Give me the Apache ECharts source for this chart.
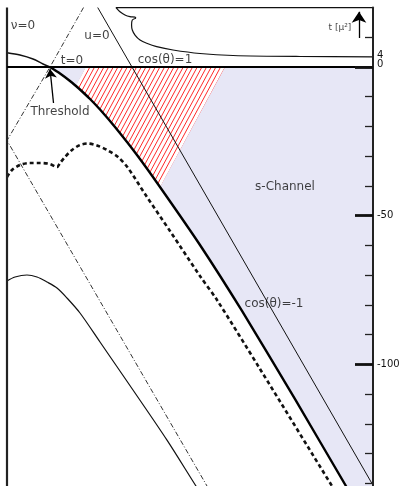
<!DOCTYPE html>
<html><head><meta charset="utf-8">
<script src="https://cdn.jsdelivr.net/npm/echarts@6/dist/echarts.min.js"></script>
<style>html,body{margin:0;padding:0;background:#fff}#c{width:401px;height:486px}</style>
</head><body><div id="c"></div>
<script>
// axis ranges (t in mu^2, nu in arbitrary units: threshold at nu = 1)
const tMin = -150, tMax = 20, nuMin = 0, nuMax = 8.5;
const minorTicks = [10,0,-10,-20,-30,-40,-50,-60,-70,-80,-90,-100,-110,-120,-130,-140,-150];
const majorTicks = [0,-50,-100];
const tickLabels = [0,-50,-100];
const thresholdTickLabel = [4];

// curves [nu, t]
const cosMinusUpper = [[0,4.81],[0.302,4.04],[0.604,2.69],[0.836,1.01],[1.0,0]];
const cosMinus = [[1.0,0],[1.231,-2.19],[1.463,-4.71],[1.602,-6.39],[1.695,-7.57],[1.928,-10.76],[2.160,-14.30],[2.508,-20.18],[3.019,-29.60],[3.553,-40.36],[4.482,-59.87],[5.458,-82.07],[6.700,-112.0],[7.873,-140.94],[8.254,-150]];
const hatchTop = [[1.835,0],[5.063,0]];
const hatchCurveRange = [1.602, 3.553];
const dashedCurve = [[0,-37.0],[0.116,-34.64],[0.302,-32.96],[0.534,-32.29],[0.766,-32.29],[0.999,-32.63],[1.161,-33.64],[1.231,-32.29],[1.347,-30.27],[1.510,-27.92],[1.695,-26.24],[1.881,-25.73],[2.090,-26.40],[2.322,-27.92],[2.578,-30.27],[2.810,-33.97],[3.251,-43.73],[3.785,-55.16],[4.482,-70.30],[4.877,-78.37],[5.876,-101.58],[7.548,-140.94],[7.940,-150]];
const lowerCurve = [[0,-71.98],[0.186,-70.64],[0.464,-69.96],[0.697,-70.64],[0.929,-72.32],[1.161,-74.34],[1.393,-77.70],[1.695,-82.74],[2.160,-92.50],[2.926,-108.64],[3.716,-125.50],[4.389,-140.94],[4.793,-150]];
const dashDotLine = [[1.777,20],[0.999,0],[0,-24.72],[5.007,-150]];
const uZeroLine = [[2.107,20],[8.5,-140.7]];
const topRegionA = [[8.5,20],[2.531,20],[2.624,18.60],[2.740,17.49],[2.856,16.92],[2.973,16.75],[2.995,16.40]];
const topRegionB = [[2.995,16.40],[2.910,15.81],[2.893,14.13],[2.910,12.45],[2.973,10.76],[3.089,9.08],[3.244,7.97],[3.477,6.83],[3.855,5.72],[4.482,4.54],[5.249,3.87],[6.805,3.53],[8.5,3.43]];
const nuZeroLine = [[0,20],[0,-150]];
const tZeroLine = [[0,0],[8.5,0]];
const thresholdArrow = [[1.08,-12.1],[0.999,-0.7]];
const tAxisArrow = [[8.175,9.75],[8.175,18.6]];
const textLabels = [
  {name:'ν=0', value:[0.372,13.79]},
  {name:'u=0', value:[2.090,10.43]},
  {name:'t=0', value:[1.510,2.19]},
  {name:'cos(θ)=1', value:[3.669,2.35]},
  {name:'Threshold', value:[1.231,-15.14]},
  {name:'s-Channel', value:[6.456,-40.36]},
  {name:'cos(θ)=-1', value:[6.201,-79.72]},
  {name:'t [μ²]', value:[7.733,13.12], label:{fontSize:9}}
];

// derived polygons
const lavenderPoly = [[1.0,0],[nuMax,0],[nuMax,tMin]].concat(cosMinus.slice().reverse());
const hatchPoly = hatchTop.concat(cosMinus.filter(p => p[0] >= hatchCurveRange[0] && p[0] <= hatchCurveRange[1]).reverse());

// hatch pattern
const tile = document.createElement('canvas'); tile.width = 14; tile.height = 26;
const g = tile.getContext('2d');
g.fillStyle = '#ffffff'; g.fillRect(0,0,14,26);
g.strokeStyle = '#ff2a2a'; g.lineWidth = 1;
for (let i=-4;i<=7;i++){ const c=i*14/3; g.beginPath(); g.moveTo(c,26); g.lineTo(c+14,0); g.stroke(); }

const FONT = 'DejaVu Sans';
function polySeries(points, fill, z){
  return {type:'custom', silent:true, z:z, data:[[0,0]],
    renderItem:function(params, api){
      return {type:'polygon', shape:{points: points.map(p=>api.coord(p))}, style:{fill:fill}};
    }};
}
function lineSeries(data, color, width, type, smooth, z){
  return {type:'line', data:data, symbol:'none', clip:false, silent:true, smooth:smooth||false, z:z||5,
    lineStyle:{color:color, width:width, type:type||'solid'}};
}
const gridBox = {left:7, right:28, top:7.54, bottom:-26.95, containLabel:false, outerBoundsMode:'none'};

const chart = echarts.init(document.getElementById('c'), null, {renderer:'canvas'});
chart.setOption({
  animation:false,
  backgroundColor:'#ffffff',
  grid:[Object.assign({}, gridBox), Object.assign({}, gridBox)],
  xAxis:[{type:'value', min:nuMin, max:nuMax, show:false, gridIndex:0},
         {type:'value', min:nuMin, max:nuMax, show:false, gridIndex:1}],
  yAxis:[
    {type:'value', gridIndex:0, position:'right', min:tMin, max:tMax, interval:10, z:20,
     axisLine:{show:true, onZero:false, lineStyle:{color:'#222', width:2}},
     axisTick:{show:true, inside:true, length:8, customValues:minorTicks, lineStyle:{color:'#222', width:1.3}},
     axisLabel:{show:true, customValues:tickLabels, hideOverlap:false, margin:4, fontSize:10, color:'#111', fontFamily:FONT,
       formatter:function(v){ return v===0 ? '{z|0}' : String(v); },
       rich:{z:{fontSize:10, fontFamily:FONT, color:'#111', padding:[0,0,6,0]}}},
     splitLine:{show:false}},
    {type:'value', gridIndex:1, position:'right', min:tMin, max:tMax, interval:10, z:21,
     axisLine:{show:false, onZero:false},
     axisTick:{show:true, inside:true, length:18, customValues:majorTicks, lineStyle:{color:'#111', width:2.8}},
     axisLabel:{show:true, customValues:thresholdTickLabel, hideOverlap:false, margin:4, fontSize:10, color:'#111', fontFamily:FONT},
     splitLine:{show:false}}
  ],
  series:[
    polySeries(lavenderPoly, '#e7e7f6', 1),
    polySeries(hatchPoly, {image:tile, repeat:'repeat'}, 2),
    lineSeries(topRegionA, '#111', 1.2, 'solid', 0.3, 5),
    lineSeries(topRegionB, '#111', 1.2, 'solid', 0.3, 5),
    lineSeries(uZeroLine, '#111', 1, 'solid', false, 5),
    lineSeries(dashDotLine, '#333', 1, [5,2,1,2], false, 5),
    lineSeries(lowerCurve, '#111', 1.2, 'solid', 0.3, 5),
    lineSeries(dashedCurve, '#111', 2.6, [4,3], 0.3, 6),
    lineSeries(cosMinusUpper, '#111', 1.4, 'solid', 0.3, 6),
    lineSeries(cosMinus, '#000', 2.4, 'solid', 0.2, 7),
    lineSeries(nuZeroLine, '#222', 2.2, 'solid', false, 8),
    lineSeries(tZeroLine, '#000', 2.2, 'solid', false, 8),
    {type:'lines', coordinateSystem:'cartesian2d', silent:true, z:9,
     symbol:['none','arrow'], symbolSize:9,
     lineStyle:{color:'#000', width:1.3, opacity:1},
     data:[{coords:thresholdArrow}, {coords:tAxisArrow, symbolSize:11}]},
    {type:'scatter', symbolSize:1, itemStyle:{color:'rgba(0,0,0,0)'}, silent:true, z:10,
     label:{show:true, position:'inside', formatter:'{b}', color:'#111', fontSize:12, fontFamily:FONT},
     data:textLabels}
  ]
});
</script></body></html>
